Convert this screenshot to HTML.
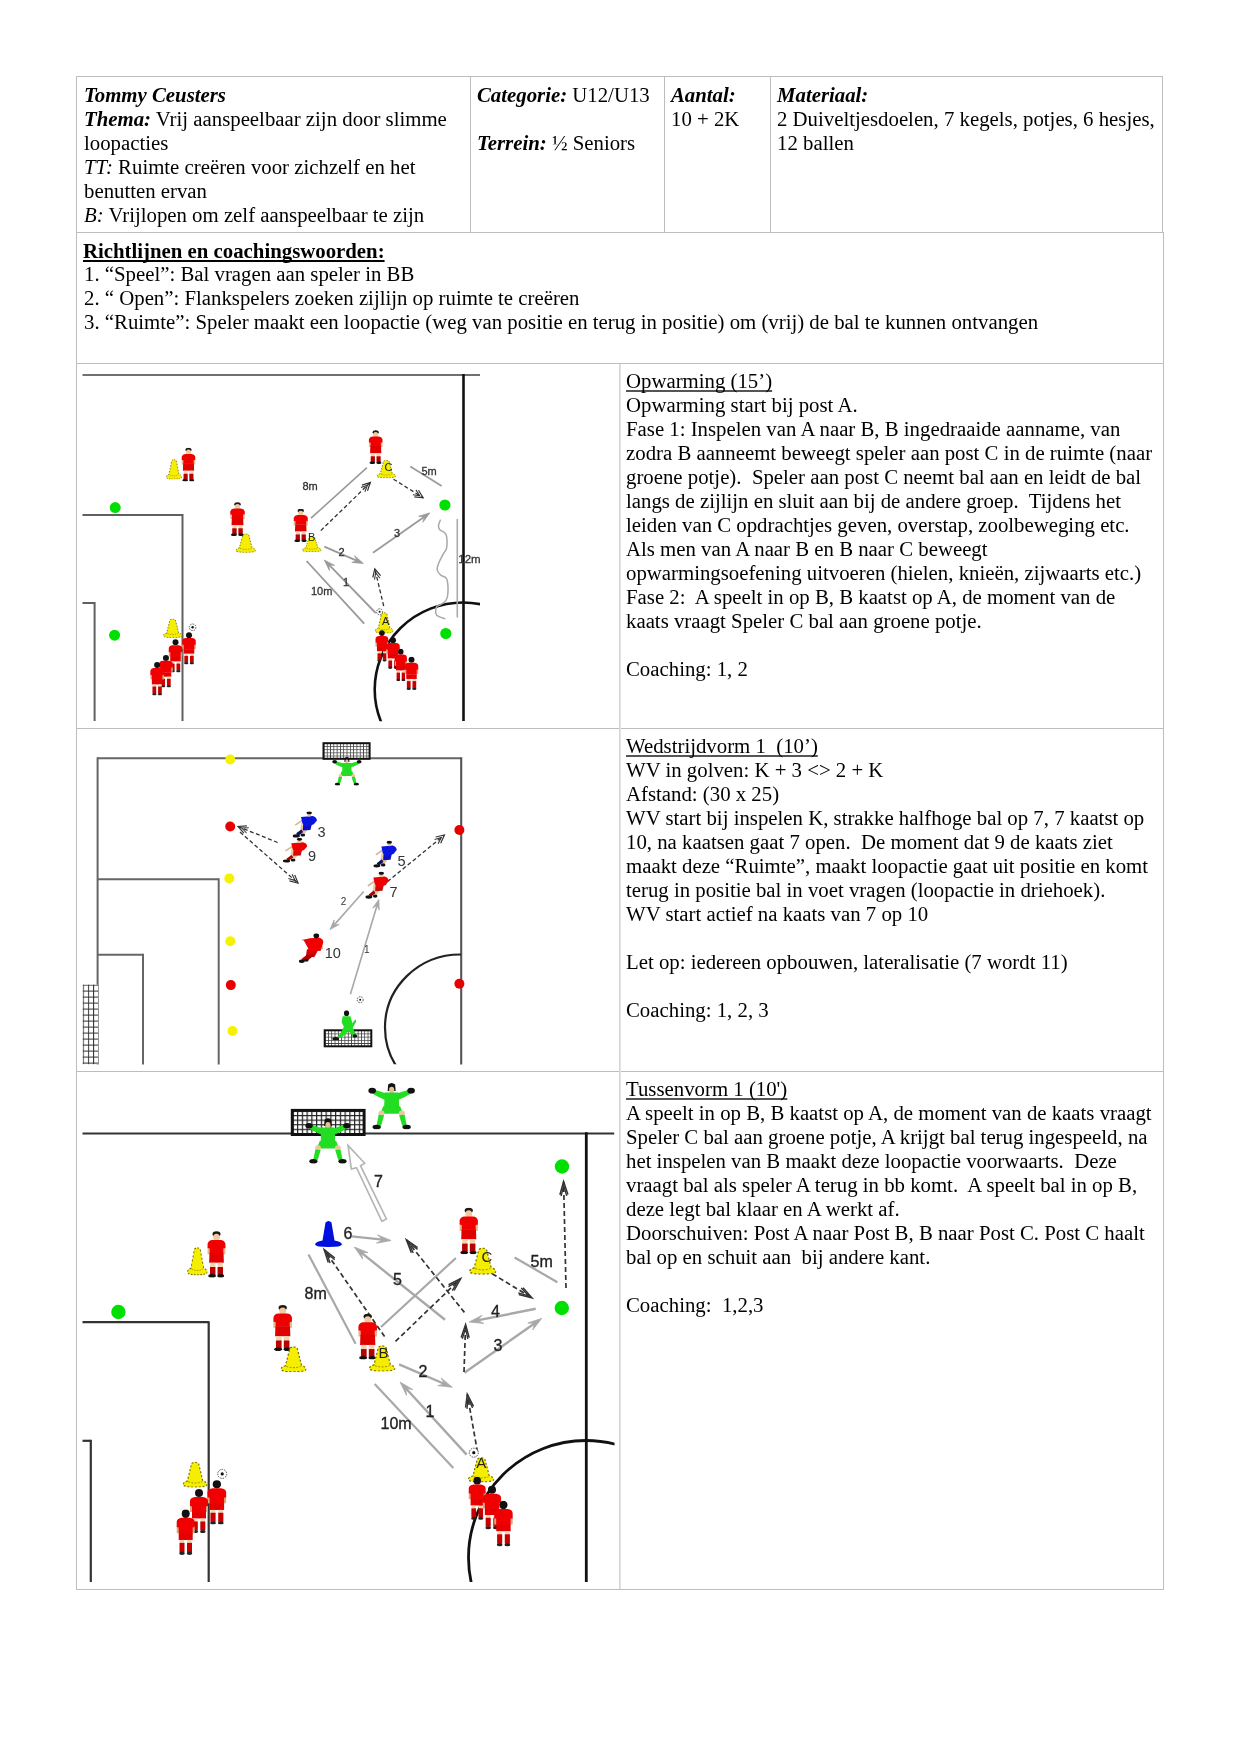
<!DOCTYPE html>
<html><head><meta charset="utf-8">
<style>
html,body{margin:0;padding:0;background:#fff;}
body{width:1241px;height:1754px;position:relative;overflow:hidden;font-family:"Liberation Serif",serif;color:#000;}
.h{position:absolute;height:1px;background:#bdbdbd;}
.v{position:absolute;width:1px;background:#bdbdbd;}
.t{position:absolute;font-size:20.8px;line-height:24px;white-space:pre;will-change:transform;}
.t b i, .bi{font-weight:bold;font-style:italic;}
.u{text-decoration:underline;text-decoration-skip-ink:none;text-decoration-thickness:1.5px;text-decoration-color:#555;text-underline-offset:1.5px;}
svg{position:absolute;}
</style></head><body>
<!-- table lines -->
<div class="h" style="left:76px;top:76px;width:1087px"></div>
<div class="h" style="left:76px;top:232px;width:1088px"></div>
<div class="h" style="left:76px;top:363px;width:1088px"></div>
<div class="h" style="left:76px;top:728px;width:1088px"></div>
<div class="h" style="left:76px;top:1071px;width:1088px"></div>
<div class="h" style="left:76px;top:1589px;width:1088px"></div>
<div class="v" style="left:76px;top:76px;height:1514px"></div>
<div class="v" style="left:1162px;top:76px;height:157px"></div>
<div class="v" style="left:1163px;top:232px;height:1358px"></div>
<div class="v" style="left:470px;top:76px;height:157px"></div>
<div class="v" style="left:664px;top:76px;height:157px"></div>
<div class="v" style="left:770px;top:76px;height:157px"></div>
<div class="v" style="left:619px;top:364px;width:2px;height:1225px;background:linear-gradient(to right,#d6d6d6 50%,#e3e3e3 50%)"></div>

<!-- row 1 -->
<div class="t" style="left:84px;top:83px"><span class="bi">Tommy Ceusters</span>
<span class="bi">Thema:</span> Vrij aanspeelbaar zijn door slimme
loopacties
<i>TT:</i> Ruimte creëren voor zichzelf en het
benutten ervan
<i>B:</i> Vrijlopen om zelf aanspeelbaar te zijn</div>
<div class="t" style="left:477px;top:83px"><span class="bi">Categorie:</span> U12/U13

<span class="bi">Terrein:</span> ½ Seniors</div>
<div class="t" style="left:671px;top:83px"><span class="bi">Aantal:</span>
10 + 2K</div>
<div class="t" style="left:777px;top:83px"><span class="bi">Materiaal:</span>
2 Duiveltjesdoelen, 7 kegels, potjes, 6 hesjes,
12 ballen</div>

<!-- row 2 -->
<div class="t" style="left:84px;top:238px"><b class="u" style="position:relative;top:1px;left:-1px;text-decoration-color:#000;text-decoration-thickness:2px">Richtlijnen en coachingswoorden:</b>
1. “Speel”: Bal vragen aan speler in BB
2. “ Open”: Flankspelers zoeken zijlijn op ruimte te creëren
3. “Ruimte”: Speler maakt een loopactie (weg van positie en terug in positie) om (vrij) de bal te kunnen ontvangen</div>

<!-- row 3 text -->
<div class="t" style="left:626px;top:369px"><span class="u">Opwarming (15’)</span>
Opwarming start bij post A.
Fase 1: Inspelen van A naar B, B ingedraaide aanname, van
zodra B aanneemt beweegt speler aan post C in de ruimte (naar
groene potje).  Speler aan post C neemt bal aan en leidt de bal
langs de zijlijn en sluit aan bij de andere groep.  Tijdens het
leiden van C opdrachtjes geven, overstap, zoolbeweging etc.
Als men van A naar B en B naar C beweegt
opwarmingsoefening uitvoeren (hielen, knieën, zijwaarts etc.)
Fase 2:  A speelt in op B, B kaatst op A, de moment van de
kaats vraagt Speler C bal aan groene potje.

Coaching: 1, 2</div>

<!-- row 4 text -->
<div class="t" style="left:626px;top:734px"><span class="u">Wedstrijdvorm 1  (10’)</span>
WV in golven: K + 3 &lt;&gt; 2 + K
Afstand: (30 x 25)
WV start bij inspelen K, strakke halfhoge bal op 7, 7 kaatst op
10, na kaatsen gaat 7 open.  De moment dat 9 de kaats ziet
maakt deze “Ruimte”, maakt loopactie gaat uit positie en komt
terug in positie bal in voet vragen (loopactie in driehoek).
WV start actief na kaats van 7 op 10

Let op: iedereen opbouwen, lateralisatie (7 wordt 11)

Coaching: 1, 2, 3</div>

<!-- row 5 text -->
<div class="t" style="left:626px;top:1077px"><span class="u">Tussenvorm 1 (10')</span>
A speelt in op B, B kaatst op A, de moment van de kaats vraagt
Speler C bal aan groene potje, A krijgt bal terug ingespeeld, na
het inspelen van B maakt deze loopactie voorwaarts.  Deze
vraagt bal als speler A terug in bb komt.  A speelt bal in op B,
deze legt bal klaar en A werkt af.
Doorschuiven: Post A naar Post B, B naar Post C. Post C haalt
bal op en schuit aan  bij andere kant.

Coaching:  1,2,3</div>

<svg style="will-change:transform;left:0;top:0" width="1241" height="1754" viewBox="0 0 1241 1754">
<defs>
<clipPath id="c1"><rect x="77" y="364" width="542" height="357.5"/></clipPath>
<clipPath id="c2"><rect x="77" y="729" width="542" height="335.5"/></clipPath>
<clipPath id="c1b"><rect x="77" y="364" width="403" height="357.5"/></clipPath>
<clipPath id="c2b"><rect x="77" y="729" width="384" height="335.5"/></clipPath>
<clipPath id="c3b"><rect x="77" y="1072" width="537.5" height="510.5"/></clipPath>
<clipPath id="c3"><rect x="77" y="1072" width="542" height="510"/></clipPath>
<pattern id="netpat" patternUnits="userSpaceOnUse" width="4" height="4"><rect width="4" height="4" fill="#fff"/><path d="M0 0.5H4M0.5 0V4" stroke="#222" stroke-width="1"/></pattern>
<symbol id="pf" viewBox="0 0 20 44" preserveAspectRatio="none">
<ellipse cx="10" cy="2.8" rx="3.8" ry="2.6" fill="#1a1a1a"/>
<ellipse cx="10" cy="6" rx="3.1" ry="3.4" fill="#f0cba0"/>
<rect x="1.5" y="15" width="2.2" height="7" fill="#e2b88c"/><rect x="16.3" y="15" width="2.2" height="7" fill="#e2b88c"/>
<path d="M1.5,12 Q2.5,8.6 6,8.4 L14,8.4 Q17.5,8.6 18.5,12 L18.5,16 L16.5,16.5 L16.5,21 L3.5,21 L3.5,16.5 L1.5,16 Z" fill="#f00000"/>
<path d="M3.3,20.5 L16.7,20.5 L17,30 L3,30 Z" fill="#e00000"/>
<rect x="4" y="30" width="5" height="4.5" fill="#f2d4b4"/><rect x="11" y="30" width="5" height="4.5" fill="#f2d4b4"/>
<rect x="3.8" y="34" width="5.2" height="7.5" fill="#b80000"/><rect x="11" y="34" width="5.2" height="7.5" fill="#b80000"/>
<ellipse cx="5.8" cy="42.4" rx="3.6" ry="1.7" fill="#111"/><ellipse cx="14" cy="42.4" rx="3.2" ry="1.7" fill="#111"/>
</symbol>
<symbol id="pb" viewBox="0 0 20 44" preserveAspectRatio="none">
<ellipse cx="10" cy="4.3" rx="4" ry="4" fill="#111"/>
<rect x="1" y="16" width="2.4" height="7" fill="#d9a880"/><rect x="16.6" y="16" width="2.4" height="7" fill="#d9a880"/>
<path d="M1,12 Q1.5,8.6 6,8.2 L14,8.2 Q18.5,8.6 19,12 L19,17 L17,17.5 L17,24 L3,24 L3,17.5 L1,17 Z" fill="#f00000"/>
<path d="M3,23.5 L17,23.5 L17,29.5 L3,29.5 Z" fill="#e40000"/>
<rect x="4" y="29.5" width="4.5" height="3" fill="#f2d4b4"/><rect x="11.5" y="29.5" width="4.5" height="3" fill="#f2d4b4"/>
<rect x="3.8" y="32.3" width="5" height="9" fill="#c80000"/><rect x="11.3" y="32.3" width="5" height="9" fill="#c80000"/>
<ellipse cx="6.3" cy="42.3" rx="2.8" ry="1.6" fill="#222"/><ellipse cx="13.8" cy="42.3" rx="2.8" ry="1.6" fill="#222"/>
</symbol>
<symbol id="gkd" viewBox="0 0 48 47" preserveAspectRatio="none">
<path d="M6,7.5 Q12,9 17,11 L31,11 Q36,9 42,7.5 L43.5,11.5 Q37,15.5 31,17.5 L17,17.5 Q11,15.5 4.5,11.5 Z" fill="#22dd22"/>
<ellipse cx="4.5" cy="8.6" rx="3.8" ry="2.8" fill="#111"/><ellipse cx="43.5" cy="8.6" rx="3.8" ry="2.8" fill="#111"/>
<path d="M20.5,2.5 Q24,-0.5 27.5,2.5 L28,9 L20,9 Z" fill="#111"/>
<ellipse cx="24" cy="8" rx="2.6" ry="3.2" fill="#e8c098"/>
<path d="M17,10.5 L31,10.5 L31.5,25 L16.5,25 Z" fill="#22dd22"/>
<path d="M15.5,24 L32.5,24 L35.5,31.5 L12.5,31.5 Z" fill="#22dd22"/>
<ellipse cx="13.8" cy="31" rx="3" ry="2.8" fill="#e8c8a0"/><ellipse cx="34.2" cy="31" rx="3" ry="2.8" fill="#e8c8a0"/>
<path d="M11,32.5 L16.5,33 L13.5,43 L9,42.5 Z" fill="#22dd22"/><path d="M37,32.5 L31.5,33 L34.5,43 L39,42.5 Z" fill="#22dd22"/>
<ellipse cx="9" cy="44.5" rx="4.2" ry="2.3" fill="#111"/><ellipse cx="39" cy="44.5" rx="4.2" ry="2.3" fill="#111"/>
</symbol>
<symbol id="gkl" viewBox="0 0 28 30" preserveAspectRatio="none">
<ellipse cx="15" cy="3" rx="2.6" ry="3" fill="#111"/>
<path d="M11,6 L19,6 L21,13 L24,9 L25,11 L21,18 L13,18 L10,12 Z" fill="#22dd22"/>
<path d="M12,17 L21,17 L25,25 L22,26 L17,21 L10,27 L5,28 L8,24 Z" fill="#22dd22"/>
<ellipse cx="4" cy="28.3" rx="3.5" ry="1.6" fill="#111"/><ellipse cx="23.5" cy="25.5" rx="2.5" ry="1.6" fill="#111"/>
</symbol>
<symbol id="rb" viewBox="0 0 26 28" preserveAspectRatio="none">
<line x1="10" y1="9.5" x2="2.5" y2="14.5" stroke="#d9b48c" stroke-width="1.7"/>
<path d="M9,11 L13,19.5 L12,22.5 L7.5,21 Z" fill="#e8c8a0"/>
<line x1="10" y1="20.5" x2="4.5" y2="24.5" stroke="#101060" stroke-width="3.4"/>
<line x1="14.5" y1="18.5" x2="11" y2="23.5" stroke="#e8c8a0" stroke-width="2.4"/>
<path d="M11,11.5 L20.5,11 L18.5,19.5 L10.5,20 Z" fill="#0a10c0"/>
<path d="M8.6,6 L21,4.8 Q25.2,6 25.2,9.5 L22,13.5 L14,16.5 L10,12.5 Z" fill="#0a14e0"/>
<ellipse cx="17.2" cy="3.6" rx="2.1" ry="2.1" fill="#e8c098"/>
<ellipse cx="17.2" cy="1.5" rx="2.9" ry="1.6" fill="#111"/>
<ellipse cx="3.5" cy="25.8" rx="3.9" ry="1.7" fill="#111"/>
<ellipse cx="10.5" cy="24.8" rx="2.5" ry="1.6" fill="#111"/>
</symbol>
<symbol id="rr" viewBox="0 0 26 28" preserveAspectRatio="none">
<line x1="10" y1="9.5" x2="2.5" y2="14.5" stroke="#d9b48c" stroke-width="1.7"/>
<path d="M9,11 L13,19.5 L12,22.5 L7.5,21 Z" fill="#e8c8a0"/>
<line x1="10" y1="20.5" x2="4.5" y2="24.5" stroke="#a80000" stroke-width="3.4"/>
<line x1="14.5" y1="18.5" x2="11" y2="23.5" stroke="#e8c8a0" stroke-width="2.4"/>
<path d="M11,11.5 L20.5,11 L18.5,19.5 L10.5,20 Z" fill="#cc0c0c"/>
<path d="M8.6,6 L21,4.8 Q25.2,6 25.2,9.5 L22,13.5 L14,16.5 L10,12.5 Z" fill="#f00000"/>
<ellipse cx="17.2" cy="3.6" rx="2.1" ry="2.1" fill="#e8c098"/>
<ellipse cx="17.2" cy="1.5" rx="2.9" ry="1.6" fill="#111"/>
<ellipse cx="3.5" cy="25.8" rx="3.9" ry="1.7" fill="#111"/>
<ellipse cx="10.5" cy="24.8" rx="2.5" ry="1.6" fill="#111"/>
</symbol>
<symbol id="rr2" viewBox="0 0 26 30" preserveAspectRatio="none">
<line x1="9" y1="8" x2="3" y2="6.5" stroke="#d9b48c" stroke-width="1.7"/>
<line x1="22" y1="10" x2="24" y2="16" stroke="#d9b48c" stroke-width="1.5"/>
<path d="M8,16 L20,15.5 L15.5,24 L7,23 Z" fill="#dd0000"/>
<line x1="10" y1="22" x2="3.5" y2="27" stroke="#b00000" stroke-width="3.4"/>
<line x1="14" y1="21" x2="8" y2="26" stroke="#b00000" stroke-width="3"/>
<path d="M4.5,6.5 Q12,4 21,4.5 Q25,6 24.5,9.5 L22,17.5 L11,18.5 L7,11 Z" fill="#f00000"/>
<ellipse cx="17.5" cy="2.6" rx="2.9" ry="2.5" fill="#111"/>
<ellipse cx="2.8" cy="28" rx="3" ry="1.7" fill="#111"/><ellipse cx="7.5" cy="27" rx="2.2" ry="1.4" fill="#111"/>
</symbol>
<symbol id="cone" viewBox="0 0 20 20" preserveAspectRatio="none">
<path d="M7.2,1.6 Q10,-0.4 12.8,1.6 L16.2,15 Q19.6,15.8 19.6,17.8 Q19,19.6 10,19.6 Q1,19.6 0.4,17.8 Q0.4,15.8 3.8,15 Z" fill="#f6ee00" stroke="#7a7000" stroke-width="0.9" stroke-dasharray="1.6,1.4"/>
<path d="M4.5,15.5 Q10,17.5 15.5,15.5" fill="none" stroke="#8a8000" stroke-width="0.7" stroke-dasharray="1.4,1.2"/>
</symbol>
<symbol id="bcone" viewBox="0 0 28 27" preserveAspectRatio="none">
<path d="M11,2 Q14,-1 17,2 L20,20 Q27,21 27.5,24 Q27,26.5 14,26.5 Q1,26.5 0.5,24 Q1,21 8,20 Z" fill="#0010dd"/>
</symbol>
</defs>
<g clip-path="url(#c1)">
<line x1="82.5" y1="375.0" x2="480.0" y2="375.0" stroke="#707070" stroke-width="2" stroke-linecap="butt"/>
<line x1="463.5" y1="374.0" x2="463.5" y2="721.0" stroke="#111" stroke-width="2.6" stroke-linecap="butt"/>
<line x1="82.5" y1="515.0" x2="182.5" y2="515.0" stroke="#606060" stroke-width="2" stroke-linecap="butt"/>
<line x1="182.5" y1="514.0" x2="182.5" y2="721.0" stroke="#606060" stroke-width="2" stroke-linecap="butt"/>
<line x1="82.5" y1="603.0" x2="94.6" y2="603.0" stroke="#606060" stroke-width="2" stroke-linecap="butt"/>
<line x1="94.6" y1="602.0" x2="94.6" y2="721.0" stroke="#606060" stroke-width="2" stroke-linecap="butt"/>
<ellipse cx="463" cy="689.5" rx="88.3" ry="87" fill="none" stroke="#111" stroke-width="2.6" clip-path="url(#c1b)"/>
<circle cx="115.2" cy="507.6" r="5.5" fill="#00e000"/>
<circle cx="444.9" cy="505.0" r="5.6" fill="#00e000"/>
<circle cx="445.8" cy="633.5" r="5.6" fill="#00e000"/>
<circle cx="114.6" cy="635.2" r="5.5" fill="#00e000"/>
<line x1="457.3" y1="519.0" x2="457.3" y2="617.5" stroke="#aaa" stroke-width="1.6" stroke-linecap="butt"/>
<path d="M 440.5 519.6 C 440.2 520.6, 438.6 524.0, 438.5 525.7 C 438.4 527.4, 438.6 528.3, 439.8 529.8 C 441.1 531.3, 444.9 531.6, 446 534.6 C 447.1 537.6, 447.1 544.4, 446.7 547.6 C 446.2 550.8, 444.6 551.4, 443.3 553.8 C 442.1 556.2, 440.2 559.4, 439.2 562 C 438.2 564.6, 436.9 567.3, 437.1 569.5 C 437.3 571.7, 438.9 573.4, 440.5 575 C 442.1 576.6, 445.4 576.2, 446.7 579 C 447.9 581.8, 448.1 588.5, 448 592 C 447.9 595.5, 447.4 598.1, 446 600.3 C 444.6 602.5, 441.4 603.9, 439.8 605 C 438.2 606.1, 436.9 605.4, 436.4 607.1 C 435.9 608.8, 435.3 613.3, 436.8 615.3 C 438.3 617.2, 443.9 618.2, 445.3 618.8" fill="none" stroke="#a8a8a8" stroke-width="1.5"/>
<line x1="311.0" y1="518.2" x2="366.9" y2="467.7" stroke="#999" stroke-width="1.6" stroke-linecap="butt"/>
<line x1="410.3" y1="466.5" x2="441.7" y2="486.0" stroke="#999" stroke-width="1.6" stroke-linecap="butt"/>
<line x1="306.6" y1="561.0" x2="364.2" y2="623.7" stroke="#999" stroke-width="1.8" stroke-linecap="butt"/>
<line x1="324.3" y1="546.6" x2="357.2" y2="560.8" stroke="#9a9a9a" stroke-width="1.8" stroke-linecap="butt"/>
<path d="M363.3,563.4 L351.8,562.4 L357.2,560.8 L354.6,555.7 Z" fill="#9a9a9a" stroke="#9a9a9a" stroke-width="0.8" stroke-linejoin="round"/>
<line x1="375.7" y1="613.0" x2="328.9" y2="564.7" stroke="#9a9a9a" stroke-width="1.8" stroke-linecap="butt"/>
<path d="M324.3,560.0 L334.5,565.4 L328.9,564.7 L329.4,570.4 Z" fill="#9a9a9a" stroke="#9a9a9a" stroke-width="0.8" stroke-linejoin="round"/>
<line x1="373.0" y1="552.8" x2="424.4" y2="516.7" stroke="#9a9a9a" stroke-width="1.8" stroke-linecap="butt"/>
<path d="M429.8,512.9 L422.9,522.2 L424.4,516.7 L418.7,516.3 Z" fill="#9a9a9a" stroke="#9a9a9a" stroke-width="0.8" stroke-linejoin="round"/>
<line x1="320.8" y1="530.6" x2="370.4" y2="482.4" stroke="#333" stroke-width="1.3" stroke-linecap="butt" stroke-dasharray="4,2.5"/>
<polyline points="367.5,490.8 370.4,482.4 361.9,485.1" fill="none" stroke="#333" stroke-width="1.1700000000000002" stroke-linejoin="miter"/>
<polyline points="364.9,491.7 367.5,485.2 361.0,487.6" fill="none" stroke="#333" stroke-width="1.04" stroke-linejoin="miter"/>
<line x1="393.5" y1="479.2" x2="423.2" y2="497.8" stroke="#333" stroke-width="1.3" stroke-linecap="butt" stroke-dasharray="4,2.5"/>
<polyline points="414.3,496.9 423.2,497.8 418.5,490.2" fill="none" stroke="#333" stroke-width="1.1700000000000002" stroke-linejoin="miter"/>
<polyline points="412.9,494.7 419.8,495.7 415.9,489.9" fill="none" stroke="#333" stroke-width="1.04" stroke-linejoin="miter"/>
<line x1="383.7" y1="606.0" x2="374.8" y2="568.8" stroke="#333" stroke-width="1.3" stroke-linecap="butt" stroke-dasharray="4,2.5"/>
<polyline points="380.6,575.6 374.8,568.8 372.8,577.5" fill="none" stroke="#333" stroke-width="1.1700000000000002" stroke-linejoin="miter"/>
<polyline points="379.9,578.3 375.7,572.7 374.5,579.6" fill="none" stroke="#333" stroke-width="1.04" stroke-linejoin="miter"/>
<text x="302.5" y="489.5" font-family="Liberation Sans, sans-serif" font-size="11" fill="#333" text-anchor="start" stroke="#333" stroke-width="0.3">8m</text>
<text x="421.5" y="474.5" font-family="Liberation Sans, sans-serif" font-size="11" fill="#333" text-anchor="start" stroke="#333" stroke-width="0.3">5m</text>
<text x="311.0" y="594.5" font-family="Liberation Sans, sans-serif" font-size="11" fill="#333" text-anchor="start" stroke="#333" stroke-width="0.3">10m</text>
<text x="338.5" y="555.5" font-family="Liberation Sans, sans-serif" font-size="11" fill="#333" text-anchor="start" stroke="#333" stroke-width="0.3">2</text>
<text x="343.0" y="585.6" font-family="Liberation Sans, sans-serif" font-size="11" fill="#333" text-anchor="start" stroke="#333" stroke-width="0.3">1</text>
<text x="394.0" y="537.0" font-family="Liberation Sans, sans-serif" font-size="11" fill="#333" text-anchor="start" stroke="#333" stroke-width="0.3">3</text>
<text x="458.3" y="562.7" font-family="Liberation Sans, sans-serif" font-size="11.5" fill="#333" text-anchor="start" stroke="#333" stroke-width="0.3">12m</text>
<use href="#cone" x="166.0" y="459.0" width="16.0" height="20.5" preserveAspectRatio="none"/>
<use href="#pf" x="180.5" y="447.5" width="16.0" height="34.0" preserveAspectRatio="none"/>
<use href="#cone" x="235.5" y="533.3" width="20.5" height="19.5" preserveAspectRatio="none"/>
<use href="#pf" x="229.0" y="502.0" width="17.0" height="34.0" preserveAspectRatio="none"/>
<use href="#pf" x="292.5" y="508.7" width="16.5" height="33.3" preserveAspectRatio="none"/>
<use href="#cone" x="302.0" y="536.0" width="19.7" height="16.0" preserveAspectRatio="none"/>
<text x="308.0" y="541.0" font-family="Liberation Sans, sans-serif" font-size="11" fill="#222" text-anchor="start">B</text>
<use href="#pf" x="367.7" y="430.0" width="16.0" height="34.0" preserveAspectRatio="none"/>
<use href="#cone" x="376.6" y="459.7" width="19.4" height="18.6" preserveAspectRatio="none"/>
<text x="384.6" y="470.5" font-family="Liberation Sans, sans-serif" font-size="11" fill="#222" text-anchor="start">C</text>
<use href="#cone" x="374.8" y="612.0" width="18.7" height="21.5" preserveAspectRatio="none"/>
<text x="382.0" y="624.6" font-family="Liberation Sans, sans-serif" font-size="11" fill="#222" text-anchor="start">A</text>
<circle cx="379.6" cy="611.8" r="3" fill="#fff" stroke="#444" stroke-width="0.9" stroke-dasharray="1.5,1"/><circle cx="379.6" cy="611.8" r="1.0" fill="#111"/>
<use href="#pb" x="374.8" y="630.0" width="14.2" height="31.8" preserveAspectRatio="none"/>
<use href="#pb" x="385.5" y="637.0" width="15.0" height="32.0" preserveAspectRatio="none"/>
<use href="#pb" x="394.0" y="648.5" width="13.6" height="32.8" preserveAspectRatio="none"/>
<use href="#pb" x="404.0" y="656.5" width="15.0" height="33.5" preserveAspectRatio="none"/>
<use href="#cone" x="163.0" y="618.4" width="19.4" height="19.6" preserveAspectRatio="none"/>
<circle cx="192.6" cy="627.3" r="3.3" fill="#fff" stroke="#444" stroke-width="0.9" stroke-dasharray="1.5,1"/><circle cx="192.6" cy="627.3" r="1.2" fill="#111"/>
<use href="#pb" x="181.5" y="632.0" width="15.0" height="32.5" preserveAspectRatio="none"/>
<use href="#pb" x="168.0" y="639.0" width="15.0" height="33.5" preserveAspectRatio="none"/>
<use href="#pb" x="158.4" y="654.7" width="15.1" height="32.8" preserveAspectRatio="none"/>
<use href="#pb" x="149.6" y="661.8" width="15.0" height="33.7" preserveAspectRatio="none"/>
</g>
<g clip-path="url(#c2)">
<line x1="97.6" y1="758.2" x2="461.2" y2="758.2" stroke="#666" stroke-width="2" stroke-linecap="butt"/>
<line x1="97.6" y1="757.2" x2="97.6" y2="1065.0" stroke="#666" stroke-width="2" stroke-linecap="butt"/>
<line x1="461.2" y1="757.2" x2="461.2" y2="1065.0" stroke="#555" stroke-width="2.1" stroke-linecap="butt"/>
<line x1="97.6" y1="879.3" x2="218.7" y2="879.3" stroke="#666" stroke-width="2" stroke-linecap="butt"/>
<line x1="218.7" y1="878.3" x2="218.7" y2="1065.0" stroke="#666" stroke-width="2" stroke-linecap="butt"/>
<line x1="97.6" y1="954.8" x2="143.0" y2="954.8" stroke="#666" stroke-width="2" stroke-linecap="butt"/>
<line x1="143.0" y1="953.8" x2="143.0" y2="1065.0" stroke="#666" stroke-width="2" stroke-linecap="butt"/>
<ellipse cx="460.3" cy="1027.5" rx="75.3" ry="73" fill="none" stroke="#222" stroke-width="2.2" clip-path="url(#c2b)"/>
<pattern id="np1" patternUnits="userSpaceOnUse" x="82.7" y="984.6" width="5.2" height="6"><rect width="5.2" height="6" fill="#fff"/><path d="M0 0.5H5.2M0.5 0V6" stroke="#333" stroke-width="1"/></pattern>
<rect x="82.7" y="984.6" width="15.5" height="79.8" fill="url(#np1)" stroke="#111" stroke-width="0"/>
<pattern id="np2" patternUnits="userSpaceOnUse" x="323.5" y="743.2" width="3.3" height="3.1"><rect width="3.3" height="3.1" fill="#fff"/><path d="M0 0.4H3.3M0.4 0V3.1" stroke="#444" stroke-width="0.8"/></pattern>
<rect x="323.5" y="743.2" width="46.1" height="15.6" fill="url(#np2)" stroke="#111" stroke-width="2"/>
<pattern id="np3" patternUnits="userSpaceOnUse" x="324.7" y="1030.3" width="3.3" height="3.2"><rect width="3.3" height="3.2" fill="#fff"/><path d="M0 0.4H3.3M0.4 0V3.2" stroke="#444" stroke-width="0.8"/></pattern>
<rect x="324.7" y="1030.3" width="46.6" height="16.0" fill="url(#np3)" stroke="#111" stroke-width="2"/>
<circle cx="230.2" cy="759.5" r="5" fill="#f4f200"/>
<circle cx="230.2" cy="826.5" r="5" fill="#e60000"/>
<circle cx="229.3" cy="878.4" r="5" fill="#f4f200"/>
<circle cx="230.3" cy="941.2" r="5" fill="#f4f200"/>
<circle cx="230.8" cy="985.1" r="5" fill="#e60000"/>
<circle cx="232.5" cy="1031.0" r="5" fill="#f4f200"/>
<circle cx="459.4" cy="830.0" r="5" fill="#e60000"/>
<circle cx="459.4" cy="983.7" r="5" fill="#e60000"/>
<line x1="277.7" y1="842.5" x2="238.0" y2="826.5" stroke="#333" stroke-width="1.3" stroke-linecap="butt" stroke-dasharray="4,2.5"/>
<polyline points="246.9,825.8 238.0,826.5 243.9,833.2" fill="none" stroke="#333" stroke-width="1.1700000000000002" stroke-linejoin="miter"/>
<polyline points="248.7,827.8 241.7,828.0 246.6,833.0" fill="none" stroke="#333" stroke-width="1.04" stroke-linejoin="miter"/>
<line x1="240.0" y1="832.0" x2="298.1" y2="883.2" stroke="#333" stroke-width="1.3" stroke-linecap="butt" stroke-dasharray="4,2.5"/>
<polyline points="289.5,880.9 298.1,883.2 294.7,874.9" fill="none" stroke="#333" stroke-width="1.1700000000000002" stroke-linejoin="miter"/>
<polyline points="288.4,878.4 295.1,880.6 292.1,874.2" fill="none" stroke="#333" stroke-width="1.04" stroke-linejoin="miter"/>
<line x1="387.6" y1="881.5" x2="444.4" y2="835.0" stroke="#333" stroke-width="1.3" stroke-linecap="butt" stroke-dasharray="4,2.5"/>
<polyline points="440.7,843.2 444.4,835.0 435.7,837.0" fill="none" stroke="#333" stroke-width="1.1700000000000002" stroke-linejoin="miter"/>
<polyline points="438.1,843.8 441.3,837.5 434.6,839.4" fill="none" stroke="#333" stroke-width="1.04" stroke-linejoin="miter"/>
<line x1="363.7" y1="891.5" x2="334.0" y2="925.1" stroke="#a8a8a8" stroke-width="1.6" stroke-linecap="butt"/>
<path d="M330.0,929.6 L334.1,919.9 L334.0,925.1 L339.2,924.4 Z" fill="#a8a8a8" stroke="#a8a8a8" stroke-width="0.8" stroke-linejoin="round"/>
<line x1="350.4" y1="994.3" x2="377.1" y2="905.2" stroke="#a8a8a8" stroke-width="1.6" stroke-linecap="butt"/>
<path d="M378.8,899.5 L379.2,910.1 L377.1,905.2 L372.7,908.1 Z" fill="#a8a8a8" stroke="#a8a8a8" stroke-width="0.8" stroke-linejoin="round"/>
<text x="340.7" y="904.8" font-family="Liberation Sans, sans-serif" font-size="10" fill="#333" text-anchor="start">2</text>
<text x="364.0" y="952.7" font-family="Liberation Sans, sans-serif" font-size="10" fill="#333" text-anchor="start">1</text>
<use href="#gkd" x="331.8" y="756.5" width="30.2" height="29.2" preserveAspectRatio="none"/>
<use href="#gkl" x="331.8" y="1010.3" width="27.5" height="30.1" preserveAspectRatio="none"/>
<use href="#rb" x="292.8" y="811.4" width="24.8" height="26.6" preserveAspectRatio="none"/>
<use href="#rr" x="283.0" y="838.0" width="24.9" height="25.0" preserveAspectRatio="none"/>
<use href="#rb" x="373.5" y="840.7" width="23.9" height="27.3" preserveAspectRatio="none"/>
<use href="#rr" x="365.5" y="871.7" width="23.9" height="27.5" preserveAspectRatio="none"/>
<use href="#rr2" x="299.0" y="933.2" width="25.7" height="30.1" preserveAspectRatio="none"/>
<text x="317.6" y="837.0" font-family="Liberation Sans, sans-serif" font-size="14.5" fill="#333" text-anchor="start">3</text>
<text x="307.9" y="861.0" font-family="Liberation Sans, sans-serif" font-size="14.5" fill="#333" text-anchor="start">9</text>
<text x="397.4" y="866.4" font-family="Liberation Sans, sans-serif" font-size="14.5" fill="#333" text-anchor="start">5</text>
<text x="389.4" y="896.5" font-family="Liberation Sans, sans-serif" font-size="14.5" fill="#333" text-anchor="start">7</text>
<text x="324.7" y="958.0" font-family="Liberation Sans, sans-serif" font-size="14.5" fill="#333" text-anchor="start">10</text>
<circle cx="360.2" cy="999.7" r="3" fill="#fff" stroke="#444" stroke-width="0.9" stroke-dasharray="1.5,1"/><circle cx="360.2" cy="999.7" r="1.0" fill="#111"/>
</g>
<g clip-path="url(#c3)">
<line x1="82.5" y1="1133.5" x2="614.2" y2="1133.5" stroke="#333" stroke-width="2.2" stroke-linecap="butt"/>
<line x1="586.3" y1="1132.3" x2="586.3" y2="1582.0" stroke="#111" stroke-width="2.8" stroke-linecap="butt"/>
<line x1="82.5" y1="1322.2" x2="208.7" y2="1322.2" stroke="#333" stroke-width="2.2" stroke-linecap="butt"/>
<line x1="208.7" y1="1321.2" x2="208.7" y2="1582.0" stroke="#333" stroke-width="2.2" stroke-linecap="butt"/>
<line x1="82.5" y1="1440.8" x2="90.8" y2="1440.8" stroke="#333" stroke-width="2.2" stroke-linecap="butt"/>
<line x1="90.8" y1="1439.8" x2="90.8" y2="1582.0" stroke="#333" stroke-width="2.2" stroke-linecap="butt"/>
<ellipse cx="586" cy="1557.5" rx="117.5" ry="117" fill="none" stroke="#111" stroke-width="2.8" clip-path="url(#c3b)"/>
<pattern id="np4" patternUnits="userSpaceOnUse" x="292.3" y="1110.4" width="4.75" height="4.6"><rect width="4.75" height="4.6" fill="#fff"/><path d="M0 0.6H4.75M0.6 0V4.6" stroke="#222" stroke-width="1.2"/></pattern>
<rect x="292.3" y="1110.4" width="71.8" height="24.1" fill="url(#np4)" stroke="#111" stroke-width="3"/>
<use href="#gkd" x="304.7" y="1117.2" width="46.5" height="46.6" preserveAspectRatio="none"/>
<use href="#gkd" x="367.7" y="1082.0" width="47.9" height="47.5" preserveAspectRatio="none"/>
<path d="M 348 1145.4 L 364.7 1163.2 L 360.5 1165.7 L 386.4 1219 L 381.9 1221.3 L 356.5 1167.7 L 351.4 1169.1 Z" fill="#fff" stroke="#b4b4b4" stroke-width="1.6" stroke-linejoin="miter"/>
<text x="374.0" y="1186.6" font-family="Liberation Sans, sans-serif" font-size="16" fill="#222" text-anchor="start" stroke="#222" stroke-width="0.35">7</text>
<circle cx="562.0" cy="1166.5" r="7.2" fill="#00e000"/>
<circle cx="561.8" cy="1308.0" r="7.2" fill="#00e000"/>
<circle cx="118.4" cy="1312.0" r="7.2" fill="#00e000"/>
<line x1="566.0" y1="1288.0" x2="563.6" y2="1181.6" stroke="#333" stroke-width="1.7" stroke-linecap="butt" stroke-dasharray="5,3"/>
<polyline points="567.9,1194.5 563.6,1181.6 559.9,1194.7" fill="none" stroke="#333" stroke-width="1.53" stroke-linejoin="miter"/>
<polyline points="566.7,1195.9 563.7,1185.6 561.1,1196.1" fill="none" stroke="#333" stroke-width="1.36" stroke-linejoin="miter"/>
<line x1="308.5" y1="1254.4" x2="355.6" y2="1343.8" stroke="#a8a8a8" stroke-width="2.2" stroke-linecap="butt"/>
<line x1="514.6" y1="1257.5" x2="557.4" y2="1282.2" stroke="#a8a8a8" stroke-width="2.2" stroke-linecap="butt"/>
<line x1="374.7" y1="1384.0" x2="453.3" y2="1467.9" stroke="#a8a8a8" stroke-width="2.2" stroke-linecap="butt"/>
<line x1="381.0" y1="1327.0" x2="455.9" y2="1258.0" stroke="#a8a8a8" stroke-width="2.2" stroke-linecap="butt"/>
<line x1="351.8" y1="1236.4" x2="382.6" y2="1239.6" stroke="#a8a8a8" stroke-width="2.4" stroke-linecap="butt"/>
<path d="M391.0,1240.5 L376.6,1243.2 L382.6,1239.6 L377.5,1234.9 Z" fill="#a8a8a8" stroke="#a8a8a8" stroke-width="0.8" stroke-linejoin="round"/>
<line x1="445.0" y1="1319.7" x2="361.0" y2="1252.4" stroke="#a8a8a8" stroke-width="2.4" stroke-linecap="butt"/>
<path d="M354.4,1247.1 L368.0,1252.6 L361.0,1252.4 L362.7,1259.1 Z" fill="#a8a8a8" stroke="#a8a8a8" stroke-width="0.8" stroke-linejoin="round"/>
<line x1="535.7" y1="1308.8" x2="477.4" y2="1320.4" stroke="#a8a8a8" stroke-width="2.4" stroke-linecap="butt"/>
<path d="M469.2,1322.0 L482.1,1315.2 L477.4,1320.4 L483.7,1323.4 Z" fill="#a8a8a8" stroke="#a8a8a8" stroke-width="0.8" stroke-linejoin="round"/>
<line x1="464.4" y1="1372.8" x2="534.8" y2="1323.2" stroke="#a8a8a8" stroke-width="2.4" stroke-linecap="butt"/>
<path d="M541.7,1318.4 L532.7,1329.9 L534.8,1323.2 L527.8,1323.0 Z" fill="#a8a8a8" stroke="#a8a8a8" stroke-width="0.8" stroke-linejoin="round"/>
<line x1="399.1" y1="1364.4" x2="444.6" y2="1384.0" stroke="#a8a8a8" stroke-width="2.4" stroke-linecap="butt"/>
<path d="M452.3,1387.3 L437.8,1385.6 L444.6,1384.0 L441.1,1377.9 Z" fill="#a8a8a8" stroke="#a8a8a8" stroke-width="0.8" stroke-linejoin="round"/>
<line x1="466.6" y1="1454.6" x2="405.8" y2="1388.3" stroke="#a8a8a8" stroke-width="2.4" stroke-linecap="butt"/>
<path d="M400.1,1382.1 L412.7,1389.6 L405.8,1388.3 L406.5,1395.3 Z" fill="#a8a8a8" stroke="#a8a8a8" stroke-width="0.8" stroke-linejoin="round"/>
<line x1="384.6" y1="1336.6" x2="324.2" y2="1249.6" stroke="#333" stroke-width="1.7" stroke-linecap="butt" stroke-dasharray="5,3"/>
<polyline points="334.9,1258.0 324.2,1249.6 328.3,1262.6" fill="none" stroke="#333" stroke-width="1.53" stroke-linejoin="miter"/>
<polyline points="334.7,1259.8 326.5,1252.9 330.1,1263.0" fill="none" stroke="#333" stroke-width="1.36" stroke-linejoin="miter"/>
<line x1="395.5" y1="1341.4" x2="460.7" y2="1278.6" stroke="#333" stroke-width="1.7" stroke-linecap="butt" stroke-dasharray="5,3"/>
<polyline points="454.1,1290.5 460.7,1278.6 448.6,1284.7" fill="none" stroke="#333" stroke-width="1.53" stroke-linejoin="miter"/>
<polyline points="452.3,1290.6 457.8,1281.4 448.4,1286.6" fill="none" stroke="#333" stroke-width="1.36" stroke-linejoin="miter"/>
<line x1="464.4" y1="1312.4" x2="406.4" y2="1239.9" stroke="#333" stroke-width="1.7" stroke-linecap="butt" stroke-dasharray="5,3"/>
<polyline points="417.6,1247.6 406.4,1239.9 411.4,1252.6" fill="none" stroke="#333" stroke-width="1.53" stroke-linejoin="miter"/>
<polyline points="417.6,1249.4 408.9,1243.0 413.2,1252.9" fill="none" stroke="#333" stroke-width="1.36" stroke-linejoin="miter"/>
<line x1="492.2" y1="1273.7" x2="532.0" y2="1297.9" stroke="#333" stroke-width="1.7" stroke-linecap="butt" stroke-dasharray="5,3"/>
<polyline points="518.8,1294.6 532.0,1297.9 523.0,1287.7" fill="none" stroke="#333" stroke-width="1.53" stroke-linejoin="miter"/>
<polyline points="518.2,1292.8 528.6,1295.8 521.2,1288.0" fill="none" stroke="#333" stroke-width="1.36" stroke-linejoin="miter"/>
<line x1="464.0" y1="1372.0" x2="465.6" y2="1324.5" stroke="#333" stroke-width="1.7" stroke-linecap="butt" stroke-dasharray="5,3"/>
<polyline points="469.2,1337.6 465.6,1324.5 461.2,1337.4" fill="none" stroke="#333" stroke-width="1.53" stroke-linejoin="miter"/>
<polyline points="467.9,1339.0 465.5,1328.5 462.3,1338.8" fill="none" stroke="#333" stroke-width="1.36" stroke-linejoin="miter"/>
<line x1="477.5" y1="1452.2" x2="467.3" y2="1394.2" stroke="#333" stroke-width="1.7" stroke-linecap="butt" stroke-dasharray="5,3"/>
<polyline points="473.5,1406.3 467.3,1394.2 465.6,1407.7" fill="none" stroke="#333" stroke-width="1.53" stroke-linejoin="miter"/>
<polyline points="472.6,1407.9 468.0,1398.1 467.0,1408.9" fill="none" stroke="#333" stroke-width="1.36" stroke-linejoin="miter"/>
<text x="304.5" y="1299.3" font-family="Liberation Sans, sans-serif" font-size="16" fill="#222" text-anchor="start" stroke="#222" stroke-width="0.35">8m</text>
<text x="530.5" y="1266.5" font-family="Liberation Sans, sans-serif" font-size="16" fill="#222" text-anchor="start" stroke="#222" stroke-width="0.35">5m</text>
<text x="380.5" y="1429.2" font-family="Liberation Sans, sans-serif" font-size="16" fill="#222" text-anchor="start" stroke="#222" stroke-width="0.35">10m</text>
<text x="343.5" y="1239.0" font-family="Liberation Sans, sans-serif" font-size="16" fill="#222" text-anchor="start" stroke="#222" stroke-width="0.35">6</text>
<text x="393.0" y="1284.6" font-family="Liberation Sans, sans-serif" font-size="16" fill="#222" text-anchor="start" stroke="#222" stroke-width="0.35">5</text>
<text x="491.0" y="1317.2" font-family="Liberation Sans, sans-serif" font-size="16" fill="#222" text-anchor="start" stroke="#222" stroke-width="0.35">4</text>
<text x="493.4" y="1351.0" font-family="Liberation Sans, sans-serif" font-size="16" fill="#222" text-anchor="start" stroke="#222" stroke-width="0.35">3</text>
<text x="418.4" y="1376.5" font-family="Liberation Sans, sans-serif" font-size="16" fill="#222" text-anchor="start" stroke="#222" stroke-width="0.35">2</text>
<text x="425.5" y="1417.1" font-family="Liberation Sans, sans-serif" font-size="16" fill="#222" text-anchor="start" stroke="#222" stroke-width="0.35">1</text>
<use href="#bcone" x="314.5" y="1220.5" width="28" height="27" preserveAspectRatio="none"/>
<use href="#cone" x="187.0" y="1247.0" width="20.6" height="28.4" preserveAspectRatio="none"/>
<use href="#pf" x="206.0" y="1231.0" width="21.0" height="46.6" preserveAspectRatio="none"/>
<use href="#pf" x="271.8" y="1304.8" width="21.8" height="46.2" preserveAspectRatio="none"/>
<use href="#cone" x="280.5" y="1346.0" width="26.1" height="26.3" preserveAspectRatio="none"/>
<use href="#pf" x="356.8" y="1313.6" width="21.8" height="45.9" preserveAspectRatio="none"/>
<use href="#cone" x="368.9" y="1345.0" width="26.6" height="26.6" preserveAspectRatio="none"/>
<text x="378.6" y="1358.3" font-family="Liberation Sans, sans-serif" font-size="15" fill="#222" text-anchor="start">B</text>
<use href="#pf" x="458.0" y="1207.6" width="21.5" height="46.6" preserveAspectRatio="none"/>
<use href="#cone" x="469.0" y="1247.3" width="27.4" height="27.4" preserveAspectRatio="none"/>
<text x="481.4" y="1262.4" font-family="Liberation Sans, sans-serif" font-size="15" fill="#222" text-anchor="start">C</text>
<use href="#cone" x="467.8" y="1457.0" width="26.6" height="25.4" preserveAspectRatio="none"/>
<text x="476.2" y="1468.0" font-family="Liberation Sans, sans-serif" font-size="15" fill="#222" text-anchor="start">A</text>
<circle cx="473.8" cy="1452.7" r="4.5" fill="#fff" stroke="#444" stroke-width="0.9" stroke-dasharray="1.5,1"/><circle cx="473.8" cy="1452.7" r="1.6" fill="#111"/>
<use href="#pb" x="467.8" y="1476.4" width="18.8" height="43.5" preserveAspectRatio="none"/>
<use href="#pb" x="481.8" y="1485.5" width="20.3" height="44.0" preserveAspectRatio="none"/>
<use href="#pb" x="493.2" y="1500.5" width="20.5" height="46.0" preserveAspectRatio="none"/>
<use href="#cone" x="182.6" y="1461.5" width="25.0" height="26.1" preserveAspectRatio="none"/>
<circle cx="222.2" cy="1473.9" r="4.5" fill="#fff" stroke="#444" stroke-width="0.9" stroke-dasharray="1.5,1"/><circle cx="222.2" cy="1473.9" r="1.6" fill="#111"/>
<use href="#pb" x="206.5" y="1480.0" width="20.7" height="44.6" preserveAspectRatio="none"/>
<use href="#pb" x="189.0" y="1488.7" width="20.0" height="44.6" preserveAspectRatio="none"/>
<use href="#pb" x="175.7" y="1509.3" width="20.0" height="45.7" preserveAspectRatio="none"/>
</g></svg>
</body></html>
